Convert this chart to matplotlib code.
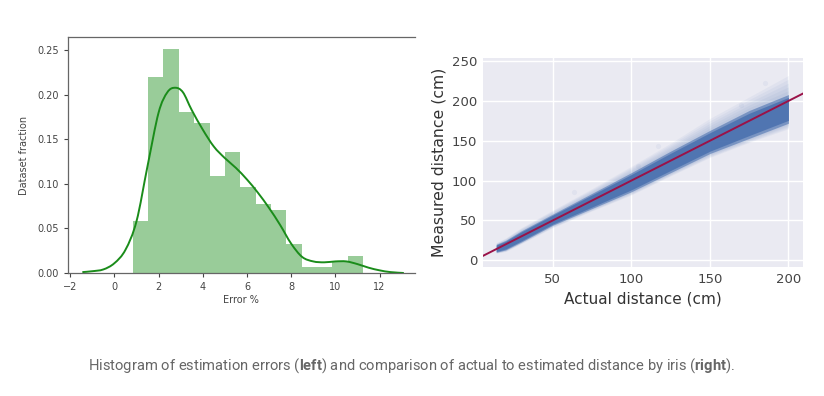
import numpy as np
import matplotlib
matplotlib.use("Agg")
import matplotlib.pyplot as plt
from matplotlib.path import Path
from matplotlib.patches import PathPatch

plt.rcParams["mathtext.fontset"] = "custom"
plt.rcParams["mathtext.rm"] = "Roboto"
plt.rcParams["mathtext.bf"] = "Roboto:bold"

# ---------------- data ----------------
# Left: histogram of estimation errors (bin edges and heights)
bin_start = 0.83
bin_width = 0.695
hist_heights = [0.058, 0.220, 0.251, 0.181, 0.168, 0.109, 0.136, 0.097,
                0.078, 0.071, 0.033, 0.007, 0.007, 0.012, 0.019]
# KDE curve points
kde_x = [-1.45, -1.0, -0.5, 0.0, 0.5, 1.0, 1.5, 2.0, 2.4, 2.75, 3.1, 3.5,
         4.0, 4.5, 5.0, 5.5, 6.0, 6.5, 7.0, 7.5, 8.0, 8.5, 9.0, 9.5, 10.0,
         10.5, 11.0, 11.5, 12.0, 12.5, 13.1]
kde_y = [0.001, 0.002, 0.004, 0.011, 0.026, 0.058, 0.120, 0.180, 0.203, 0.208,
         0.203, 0.183, 0.161, 0.142, 0.129, 0.118, 0.105, 0.090, 0.073, 0.054,
         0.033, 0.018, 0.013, 0.012, 0.013, 0.013, 0.010, 0.006, 0.003, 0.001,
         0.000]

# Right: actual vs measured distance, point cloud summarised as bands
band_x = [14, 20, 30, 50, 75, 100, 125, 150, 175, 200]
core_lo = [10, 13, 23, 44, 65, 86, 110, 134, 153, 172]
core_hi = [20, 25, 37, 58, 84, 110, 137, 163, 188, 208]
haze_lo = [9, 11, 21, 41, 62, 82, 106, 129, 148, 165]
haze_hi = [22, 28, 41, 63, 90, 118, 147, 178, 205, 232]
outlier_x = [63.8, 116.7, 104, 185, 170]
outlier_y = [86, 143.7, 118, 222, 195]
ref_line = [5, 209]

caption = (r"Histogram of estimation errors ($\mathbf{left}$) and comparison of "
           r"actual to estimated distance by iris ($\mathbf{right}$).")


def smooth_path(xs, ys, tension=1.0 / 6):
    """Catmull-Rom curve through the given points, as Bezier path."""
    pts = np.column_stack([xs, ys]).astype(float)
    verts = [pts[0]]
    codes = [Path.MOVETO]
    n = len(pts)
    for i in range(n - 1):
        p0 = pts[max(i - 1, 0)]
        p1 = pts[i]
        p2 = pts[i + 1]
        p3 = pts[min(i + 2, n - 1)]
        c1 = p1 + (p2 - p0) * tension
        c2 = p2 - (p3 - p1) * tension
        verts += [c1, c2, p2]
        codes += [Path.CURVE4] * 3
    return Path(verts, codes)


# ---------------- figure ----------------
fig = plt.figure(figsize=(8.24, 3.96), dpi=100)
fig.patch.set_facecolor("white")

# Left axes (classic matplotlib look)
ax1 = fig.add_axes([0.0825, 0.3106, 0.421, 0.596])
edges = bin_start + bin_width * np.arange(len(hist_heights))
ax1.bar(edges, hist_heights, width=bin_width, align="edge",
        color=(0, 0.5, 0), alpha=0.4, linewidth=0)
ax1.add_patch(PathPatch(smooth_path(kde_x, kde_y), facecolor="none",
                        edgecolor=(0.1, 0.55, 0.1), lw=1.4))
ax1.set_xlim(-2.1, 13.6)
ax1.set_ylim(0, 0.265)
ax1.set_xticks([-2, 0, 2, 4, 6, 8, 10, 12])
ax1.set_xticklabels(["\u22122", "0", "2", "4", "6", "8", "10", "12"])
ax1.set_yticks([0, 0.05, 0.10, 0.15, 0.20, 0.25])
ax1.set_yticklabels(["0.00", "0.05", "0.10", "0.15", "0.20", "0.25"])
for s in ["left", "top", "bottom"]:
    ax1.spines[s].set_color("#666666")
    ax1.spines[s].set_linewidth(0.9)
ax1.spines["right"].set_visible(False)
ax1.tick_params(labelsize=7, colors="#444444", length=3, width=0.8)
ax1.set_xlabel("Error %", fontsize=7, color="#444444", labelpad=2)
ax1.set_ylabel("Dataset fraction", fontsize=7, color="#444444", labelpad=6)

# Right axes (seaborn darkgrid look)
ax2 = fig.add_axes([0.586, 0.3258, 0.388, 0.528])
ax2.set_facecolor("#eaeaf2")
ax2.grid(True, color="white", lw=1.0)
ax2.set_axisbelow(True)
for s in ax2.spines.values():
    s.set_visible(False)
blue = "#4c72b0"
core_lo_a = np.array(core_lo, float)
core_hi_a = np.array(core_hi, float)
haze_lo_a = np.array(haze_lo, float)
haze_hi_a = np.array(haze_hi, float)
for f in [1.0, 0.8, 0.6, 0.4, 0.2]:
    ax2.fill_between(band_x, core_lo_a + f * (haze_lo_a - core_lo_a),
                     core_hi_a + f * (haze_hi_a - core_hi_a),
                     color=blue, alpha=0.06, lw=0)
ax2.fill_between(band_x, core_lo_a, core_hi_a, color=blue, alpha=0.6, lw=0)
ax2.fill_between(band_x, core_lo_a + 0.1 * (core_hi_a - core_lo_a),
                 core_hi_a - 0.1 * (core_hi_a - core_lo_a),
                 color=blue, alpha=0.9, lw=0)
ax2.scatter(outlier_x, outlier_y, s=14, color=blue, alpha=0.06, lw=0)
ax2.plot(ref_line, ref_line, color="#9a1248", lw=1.4)
ax2.set_xlim(5.5, 209)
ax2.set_ylim(-8.4, 254)
ax2.set_xticks([50, 100, 150, 200])
ax2.set_yticks([0, 50, 100, 150, 200, 250])
ax2.tick_params(labelsize=9.5, colors="#444444", length=0, pad=4)
ax2.set_xlabel("Actual distance (cm)", fontsize=11, color="#333333", labelpad=4)
ax2.set_ylabel("Measured distance (cm)", fontsize=11.3, color="#333333", labelpad=4)

# Caption
fig.text(0.5, 0.078, caption, fontsize=10.6, family="Roboto",
         color="#666666", va="center", ha="center")

fig.savefig("out.png", dpi=100, facecolor="white")
